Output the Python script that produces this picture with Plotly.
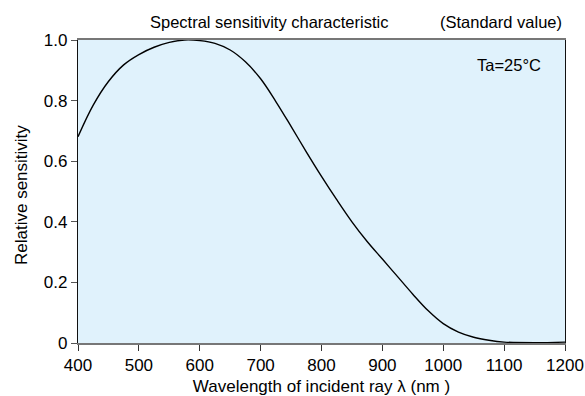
import plotly.graph_objects as go

wavelength = [400, 425, 450, 475, 500, 525, 550, 575, 600, 625, 650, 675, 700, 725, 750, 775, 800, 825, 850, 875, 900, 925, 950, 975, 1000, 1025, 1050, 1075, 1100, 1150, 1200]
sensitivity = [0.681, 0.785, 0.863, 0.918, 0.952, 0.976, 0.992, 1.0, 0.998, 0.989, 0.967, 0.928, 0.872, 0.797, 0.715, 0.631, 0.550, 0.473, 0.400, 0.335, 0.277, 0.219, 0.161, 0.107, 0.064, 0.036, 0.019, 0.009, 0.003, 0.001, 0.003]

x_ticks = [400, 500, 600, 700, 800, 900, 1000, 1100, 1200]
y_ticks = [0, 0.2, 0.4, 0.6, 0.8, 1.0]
y_tick_labels = ["0", "0.2", "0.4", "0.6", "0.8", "1.0"]

FONT = "Liberation Sans, Arial, sans-serif"
W, H = 585, 396
L, R, T, B = 78, 20, 40, 53
pw, ph = W - L - R, H - T - B


def px(x):
    return (x - L) / pw


def py(y):
    return (H - B - y) / ph


fig = go.Figure()
fig.add_trace(go.Scatter(
    x=wavelength, y=sensitivity, mode="lines",
    line=dict(color="black", width=1.4, shape="spline", smoothing=1.0),
    hoverinfo="skip", showlegend=False,
))

fig.update_layout(
    width=W, height=H,
    margin=dict(l=L, r=R, t=T, b=B),
    paper_bgcolor="white",
    plot_bgcolor="#e0f2fc",
    font=dict(family=FONT, size=17, color="black"),
    showlegend=False,
    xaxis=dict(
        range=[400, 1200], tickvals=x_ticks, ticks="outside", ticklen=6,
        tickcolor="#333", tickwidth=1, showgrid=False, zeroline=False,
        showline=True, linecolor="#777", linewidth=2, mirror=True,
        layer="below traces", automargin=False, tickfont=dict(size=17),
        title=dict(text="Wavelength of incident ray λ (nm )", font=dict(size=17), standoff=6),
    ),
    yaxis=dict(
        range=[0, 1.0], tickvals=y_ticks, ticktext=y_tick_labels, ticks="outside",
        ticklen=6, tickcolor="#555", tickwidth=1, showgrid=False, zeroline=False,
        showline=True, linecolor="#111", linewidth=1.3, mirror=True,
        layer="below traces", automargin=False, tickfont=dict(size=17),
    ),
    annotations=[
        dict(text="Spectral sensitivity characteristic", x=px(269), y=py(22),
             xref="paper", yref="paper", xanchor="center", yanchor="middle",
             showarrow=False, font=dict(size=16.5)),
        dict(text="(Standard value)", x=px(501), y=py(22),
             xref="paper", yref="paper", xanchor="center", yanchor="middle",
             showarrow=False, font=dict(size=16.5)),
        dict(text="Ta=25°C", x=px(543), y=py(65),
             xref="paper", yref="paper", xanchor="right", yanchor="middle",
             showarrow=False, font=dict(size=16.5)),
        dict(text="Relative sensitivity", x=px(21), y=py(195), textangle=-90,
             xref="paper", yref="paper", xanchor="center", yanchor="middle",
             showarrow=False, font=dict(size=17)),
    ],
)

fig.write_html("out.html", config={"displayModeBar": False})

# remove default browser body margin so the figure sits at the page origin
with open("out.html", "r", encoding="utf-8") as f:
    html = f.read()
html = html.replace("<head>", "<head><style>html,body{margin:0;padding:0;overflow:hidden;}</style>", 1)
with open("out.html", "w", encoding="utf-8") as f:
    f.write(html)
